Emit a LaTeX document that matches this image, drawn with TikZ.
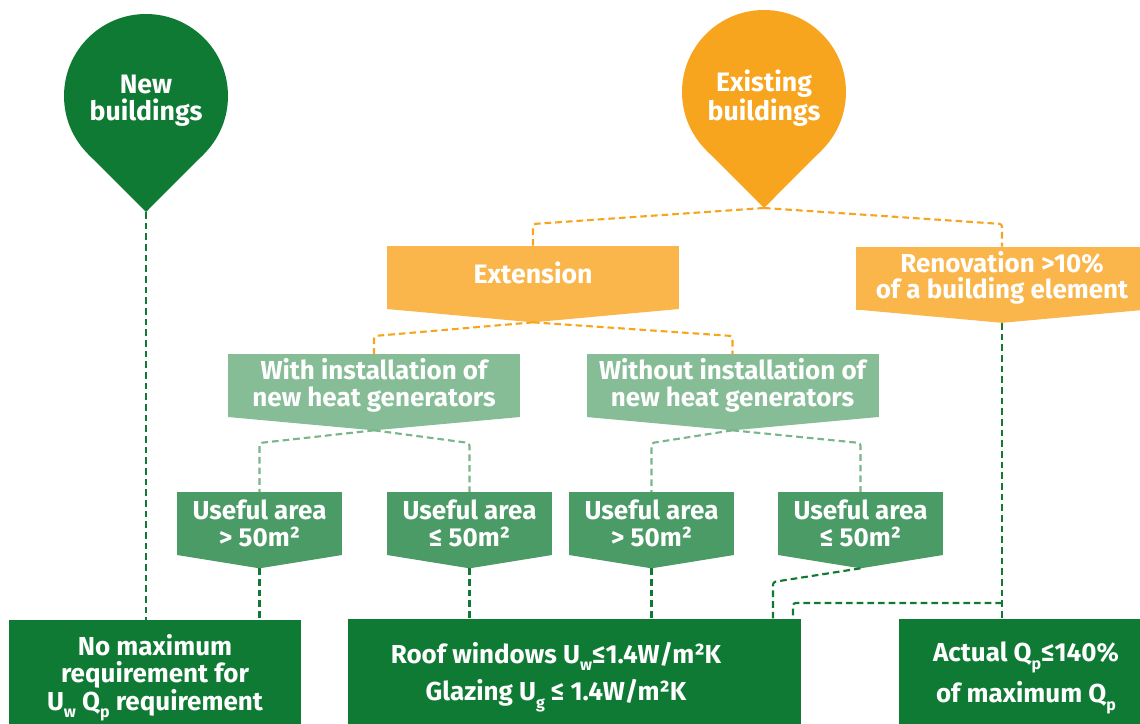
\documentclass[tikz,border=0pt]{standalone}
\usepackage{fontspec}
\setmainfont{Fira Sans}
\usetikzlibrary{positioning, calc}
\definecolor{pingreen}{HTML}{0F7A34}
\definecolor{pinorange}{HTML}{F7A51E}
\definecolor{boxorange}{HTML}{FAB64A}
\definecolor{palegreen}{HTML}{86BD96}
\definecolor{areagreen}{HTML}{4A9B65}
\definecolor{dashgreen}{HTML}{7AB68B}
\newcommand{\sub}[1]{\raisebox{-0.55ex}{\fontsize{12}{12}\selectfont #1}}
\tikzset{
every node/.style={text=white, align=center, inner sep=0pt, outer sep=0pt},
place/.style={circle, fill=#1, minimum size=123pt},
pintext/.style={font=\fontsize{20}{20.5}\selectfont\bfseries},
tagbox/.style={rectangle, fill=#1, minimum width=219pt, minimum height=47.25pt, font=\fontsize{19.5}{20}\selectfont\bfseries},
areabox/.style={tagbox=areagreen, minimum width=123.75pt},
result/.style={rectangle, fill=pingreen, minimum height=79.5pt},
restext/.style={font=\fontsize{19.5}{20}\selectfont\bfseries},
odash/.style={draw=pinorange, line width=1.6pt, dash pattern=on 5pt off 3pt, rounded corners=2pt},
ldash/.style={odash, draw=dashgreen},
gdash/.style={odash, draw=pingreen},
}

\begin{document}
\begin{tikzpicture}[x=0.75pt, y=-0.75pt]
    \useasboundingbox (0,0) rectangle (1140,724);
    \clip (0,0) rectangle (1140,724);
        \node[place=pingreen] (newb) at (146,96) {};
        \node[place=pinorange] (exist) at (764,92) {};
        \coordinate (newb-tip) at ([yshift=-87pt]newb.center);
        \coordinate (exist-tip) at ([yshift=-87pt]exist.center);
        \fill[pingreen] (newb.-135) -- (newb-tip) -- (newb.-45) -- cycle;
        \fill[pinorange] (exist.-135) -- (exist-tip) -- (exist.-45) -- cycle;
        \node[pintext] (newb-txt) at (146,101) {New\\buildings};
        \node[pintext] (exist-txt) at (764,98) {Existing\\buildings};

        \node[tagbox=boxorange, font=\fontsize{20}{20}\selectfont\bfseries, text depth=7pt] (ext) at (533,277.5) {Extension};
        \node[tagbox=boxorange] (ren) at (1002,278) {Renovation >10\%\\of a building element};
        \node[tagbox=palegreen] (with) at (374,385.5) {With installation of\\new heat generators};
        \node[tagbox=palegreen] (wout) at (732.5,385.5) {Without installation of\\new heat generators};
        \node[areabox] (ua1) at (259.5,523.5) {Useful area\\> 50m²};
        \node[areabox] (ua2) at (469.5,523.5) {Useful area\\≤ 50m²};
        \node[areabox] (ua3) at (651.5,523.5) {Useful area\\> 50m²};
        \node[areabox] (ua4) at (860.5,523.5) {Useful area\\≤ 50m²};
        \foreach \n/\c in {ext/boxorange, ren/boxorange, with/palegreen, wout/palegreen, ua1/areagreen, ua2/areagreen, ua3/areagreen, ua4/areagreen} {
            \coordinate (\n-tip) at ([yshift=-10pt]\n.south);
            \fill[\c] (\n.south west) -- (\n.south east) -- (\n-tip) -- cycle;
        }

        \node[result, minimum width=219pt] (nomax) at (155,673) {};
        \node[restext] (nomax-txt) at (155,678) {No maximum\\requirement for\\U\sub{w} Q\sub{p} requirement};
        \node[result, minimum width=339.75pt] (roof) at (574.5,672) {};
        \node[restext] (roof-txt) at (556,677) {Roof windows U\sub{w}≤1.4W/m²K\\[5.5pt]Glazing U\sub{g} ≤ 1.4W/m²K};
        \node[result, minimum width=190.5pt] (actual) at (1026,672) {};
        \node[restext] (actual-txt) at (1026,678) {Actual Q\sub{p}≤140\%\\[5.5pt]of maximum Q\sub{p}};

        \draw[gdash] (newb-tip) -- (newb-tip |- nomax.north);
        \draw[odash] (exist-tip) -- (ext.north |- 0,224) -- (ext.north);
        \draw[odash] (exist-tip) -- (ren.north |- 0,224) -- (ren.north);
        \draw[odash] (ext-tip) -- (with.north |- 0,336) -- (with.north);
        \draw[odash] (ext-tip) -- (wout.north |- 0,336) -- (wout.north);
        \draw[ldash] (with-tip) -- (ua1.north |- 0,443) -- (ua1.north);
        \draw[ldash] (with-tip) -- (ua2.north |- 0,443) -- (ua2.north);
        \draw[ldash] (wout-tip) -- (ua3.north |- 0,443) -- (ua3.north);
        \draw[ldash] (wout-tip) -- (ua4.north |- 0,443) -- (ua4.north);
        \draw[gdash] (ua1-tip) -- (ua1-tip |- nomax.north);
        \draw[gdash] (ua2-tip) -- (ua2-tip |- roof.north);
        \draw[gdash] (ua3-tip) -- (ua3-tip |- roof.north);
        \draw[gdash] (ua4-tip) -- (773,582) -- (roof.north -| 773,0);
        \draw[gdash] (ren-tip) -- (ren-tip |- actual.north);
        \draw[gdash] (ren-tip |- 0,603) -- (793,603) -- (roof.north -| 793,0);
    \end{tikzpicture}
\end{document}
